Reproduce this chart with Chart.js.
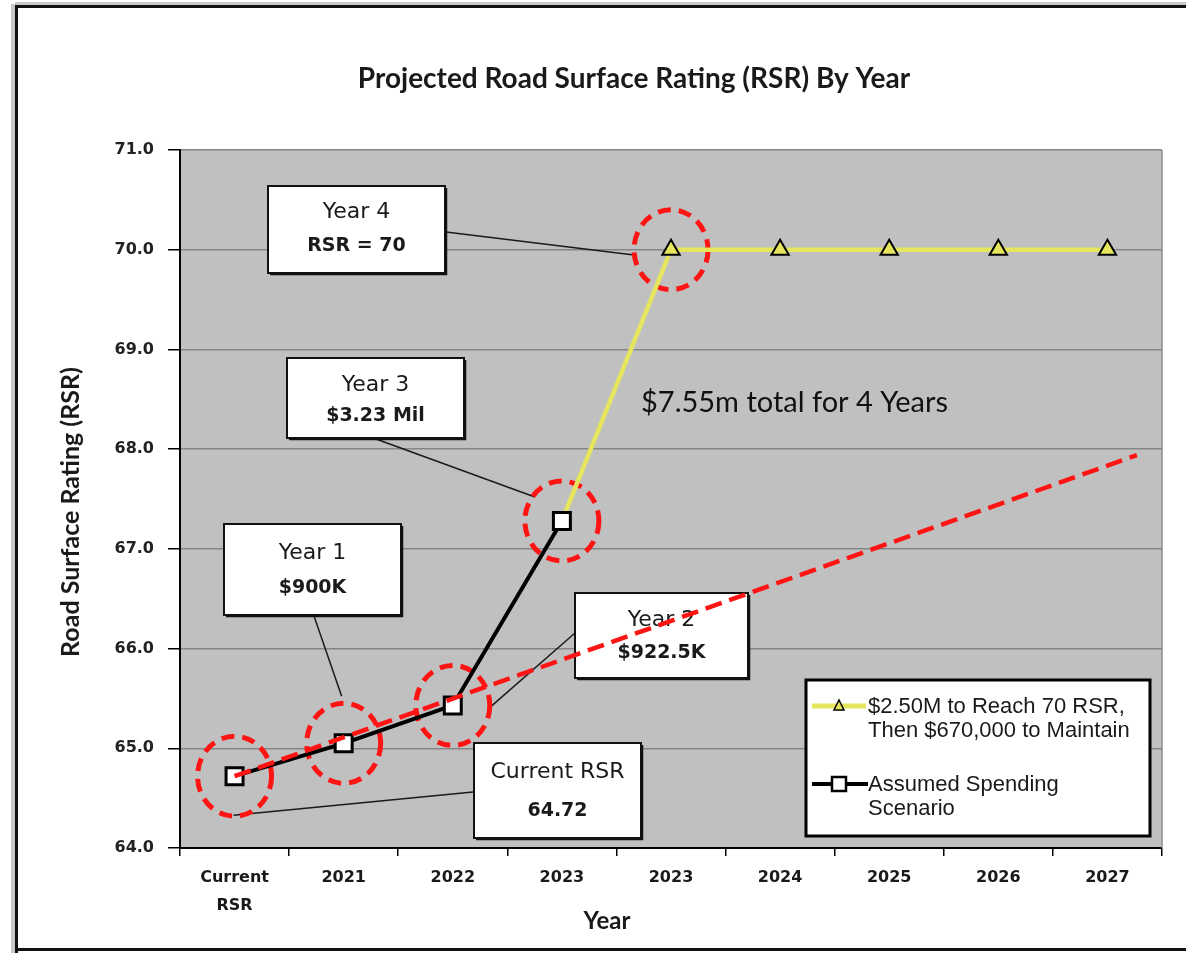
<!DOCTYPE html>
<html>
<head>
<meta charset="utf-8">
<title>Projected Road Surface Rating (RSR) By Year</title>
<script src="https://cdn.jsdelivr.net/npm/chart.js@4.4.0/dist/chart.umd.min.js"></script>
<style>
  html, body { margin: 0; padding: 0; background: #fff; }
  #wrap { width: 1186px; height: 953px; position: relative; }
</style>
</head>
<body>
<div id="wrap"><canvas id="rsrChart"></canvas></div>
<script>
// dados do gráfico
const categorias = [['Current', 'RSR'], '2021', '2022', '2023', '2023', '2024', '2025', '2026', '2027'];
const gastoAssumido = [64.72, 65.05, 65.43, 67.28, null, null, null, null, null];
const manter70 = [null, null, null, 67.28, 70.0, 70.0, 70.0, 70.0, 70.0];
const tendenciaX = [0, 8.27];
const tendenciaY = [64.72, 67.94];
const nomeManter = ['$2.50M to Reach 70 RSR,', 'Then $670,000 to Maintain'];
const nomeAssumido = ['Assumed Spending', 'Scenario'];
const textoTotal = '$7.55m total for 4 Years';

const amarelo = '#e6e65e';
const vermelho = '#ff1414';

// caixas de anotação (texto + ponto alvo)
const anotacoes = [
  { l1: 'Year 4', l2: 'RSR = 70', box: [268, 186, 177, 87], y1: 212, y2: 246, from: [446, 232], ds: 2, idx: 4, off: [-39, 5] },
  { l1: 'Year 3', l2: '$3.23 Mil', box: [287, 358, 177, 80], y1: 385, y2: 416, from: [376, 439], ds: 1, idx: 3, off: [-27, -24] },
  { l1: 'Year 1', l2: '$900K', box: [224, 524, 177, 91], y1: 553, y2: 588, from: [314, 616], ds: 1, idx: 1, off: [-2, -47] },
  { l1: 'Year 2', l2: '$922.5K', box: [575, 593, 173, 85], y1: 620, y2: 653, from: [575, 633], ds: 1, idx: 2, off: [36, 3] },
  { l1: 'Current RSR', l2: '64.72', box: [474, 743, 167, 95], y1: 772, y2: 811, from: [473, 792], ds: 1, idx: 0, off: [-1, 39] }
];
// círculos tracejados em volta dos pontos
const circulos = [[1, 0], [1, 1], [1, 2], [1, 3], [2, 4]];

function pontoPx(chart, ds, idx) {
  const el = chart.getDatasetMeta(ds).data[idx];
  return [el.x, el.y];
}

const fundoPlugin = {
  id: 'fundo',
  beforeDraw(chart) {
    const ctx = chart.ctx;
    const a = chart.chartArea;
    ctx.save();
    ctx.fillStyle = '#fff';
    ctx.fillRect(0, 0, chart.width, chart.height);
    // moldura
    ctx.fillStyle = '#c8c8c8';
    ctx.fillRect(11, 4, 4, chart.height);
    ctx.fillRect(15, 2, chart.width, 3);
    ctx.fillStyle = '#111';
    ctx.fillRect(15, 5, 3, chart.height);
    ctx.fillRect(15, 5, chart.width, 3);
    ctx.fillRect(15, 948, chart.width, 3);
    // area do grafico
    ctx.fillStyle = '#c0c0c0';
    ctx.fillRect(a.left, a.top, a.right - a.left, a.bottom - a.top);
    // titulos
    ctx.fillStyle = '#1a1a1a';
    ctx.textAlign = 'center';
    ctx.textBaseline = 'middle';
    ctx.font = 'bold 28px Lato, "Liberation Sans", sans-serif';
    ctx.fillText('Projected Road Surface Rating (RSR) By Year', 634, 79);
    ctx.font = 'bold 24px Lato, "Liberation Sans", sans-serif';
    ctx.fillText('Year', 607, 921);
    ctx.save();
    ctx.translate(71, 512);
    ctx.rotate(-Math.PI / 2);
    ctx.font = 'bold 25px Lato, "Liberation Sans", sans-serif';
    ctx.fillText('Road Surface Rating (RSR)', 0, 0);
    ctx.restore();
    ctx.restore();
  },
  beforeDatasetsDraw(chart) {
    const ctx = chart.ctx;
    const a = chart.chartArea;
    ctx.save();
    // borda direita da area
    ctx.strokeStyle = '#8c8c8c';
    ctx.lineWidth = 1.5;
    ctx.beginPath();
    ctx.moveTo(a.right, a.top);
    ctx.lineTo(a.right, a.bottom);
    ctx.stroke();

    // linhas de chamada
    ctx.strokeStyle = '#1a1a1a';
    ctx.lineWidth = 1.5;
    anotacoes.forEach(n => {
      const p = pontoPx(chart, n.ds, n.idx);
      ctx.beginPath();
      ctx.moveTo(n.from[0], n.from[1]);
      ctx.lineTo(p[0] + n.off[0], p[1] + n.off[1]);
      ctx.stroke();
    });

    // caixas
    anotacoes.forEach(n => {
      const [x, y, w, h] = n.box;
      ctx.fillStyle = '#fff';
      ctx.fillRect(x, y, w, h);
      ctx.strokeStyle = '#111';
      ctx.lineWidth = 2;
      ctx.strokeRect(x, y, w, h);
      ctx.lineWidth = 1.5;
      ctx.beginPath();
      ctx.moveTo(x + 2, y + h + 1.5);
      ctx.lineTo(x + w + 1.5, y + h + 1.5);
      ctx.lineTo(x + w + 1.5, y + 2);
      ctx.stroke();
      ctx.fillStyle = '#1a1a1a';
      ctx.textAlign = 'center';
      ctx.textBaseline = 'middle';
      ctx.font = '22px "DejaVu Sans", Verdana, sans-serif';
      ctx.fillText(n.l1, x + w / 2, n.y1);
      ctx.font = 'bold 19px "DejaVu Sans", Verdana, sans-serif';
      ctx.fillText(n.l2, x + w / 2, n.y2);
    });

    // circulos tracejados
    ctx.strokeStyle = vermelho;
    ctx.lineWidth = 5;
    ctx.setLineDash([13, 8]);
    circulos.forEach(c => {
      const p = pontoPx(chart, c[0], c[1]);
      ctx.beginPath();
      ctx.ellipse(p[0], p[1], 37, 40, 0, 0, Math.PI * 2);
      ctx.stroke();
    });
    ctx.setLineDash([]);

    // texto total
    ctx.fillStyle = '#111';
    ctx.textAlign = 'left';
    ctx.textBaseline = 'middle';
    ctx.font = '29px Lato, "Liberation Sans", sans-serif';
    ctx.fillText(textoTotal, 641, 403);

    // legenda
    const lx = 806, ly = 680, lw = 344, lh = 156;
    ctx.fillStyle = '#fff';
    ctx.fillRect(lx, ly, lw, lh);
    ctx.strokeStyle = '#000';
    ctx.lineWidth = 3;
    ctx.strokeRect(lx, ly, lw, lh);

    ctx.strokeStyle = amarelo;
    ctx.lineWidth = 5;
    ctx.beginPath();
    ctx.moveTo(812, 706);
    ctx.lineTo(866, 706);
    ctx.stroke();
    ctx.fillStyle = amarelo;
    ctx.strokeStyle = '#000';
    ctx.lineWidth = 1.5;
    ctx.beginPath();
    ctx.moveTo(839, 700);
    ctx.lineTo(844, 710);
    ctx.lineTo(834, 710);
    ctx.closePath();
    ctx.fill();
    ctx.stroke();

    ctx.strokeStyle = '#000';
    ctx.lineWidth = 4;
    ctx.beginPath();
    ctx.moveTo(812, 784);
    ctx.lineTo(868, 784);
    ctx.stroke();
    ctx.fillStyle = '#fff';
    ctx.lineWidth = 2.5;
    ctx.fillRect(832, 777, 14, 14);
    ctx.strokeRect(832, 777, 14, 14);

    ctx.fillStyle = '#1a1a1a';
    ctx.font = '22px "Liberation Sans", Arial, sans-serif';
    ctx.textAlign = 'left';
    ctx.fillText(nomeManter[0], 868, 707);
    ctx.fillText(nomeManter[1], 868, 731);
    ctx.fillText(nomeAssumido[0], 868, 785);
    ctx.fillText(nomeAssumido[1], 868, 809);
    ctx.restore();
  }
};

const ctxRsr = document.getElementById('rsrChart').getContext('2d');
const graficoRsr = new Chart(ctxRsr, {
  type: 'line',
  data: {
    labels: categorias,
    datasets: [
      {
        label: 'Trend',
        xAxisID: 'x2',
        data: tendenciaX.map((x, i) => ({ x: x, y: tendenciaY[i] })),
        borderColor: vermelho,
        borderWidth: 4.5,
        borderDash: [17, 8],
        pointRadius: 0,
        fill: false
      },
      {
        label: nomeAssumido.join(' '),
        data: gastoAssumido,
        borderColor: '#000',
        borderWidth: 4,
        pointStyle: 'rect',
        pointRadius: 12,
        pointBackgroundColor: '#fff',
        pointBorderColor: '#000',
        pointBorderWidth: 3,
        fill: false
      },
      {
        label: nomeManter.join(' '),
        data: manter70,
        borderColor: amarelo,
        borderWidth: 4.5,
        pointStyle: 'triangle',
        pointRadius: [0, 0, 0, 0, 10, 10, 10, 10, 10],
        pointBackgroundColor: amarelo,
        pointBorderColor: '#000',
        pointBorderWidth: 2,
        fill: false
      }
    ]
  },
  options: {
    responsive: true,
    maintainAspectRatio: false,
    animation: false,
    layout: { padding: { top: 150, right: 24, left: 0, bottom: 0 } },
    plugins: {
      legend: { display: false },
      tooltip: { enabled: false },
      title: { display: false }
    },
    scales: {
      x: {
        type: 'category',
        offset: true,
        grid: {
          offset: true,
          drawOnChartArea: false,
          drawTicks: true,
          tickLength: 8,
          color: '#000',
          lineWidth: 1.5
        },
        border: { color: '#000', width: 2 },
        ticks: {
          color: '#1a1a1a',
          font: { family: '"DejaVu Sans", Verdana, sans-serif', size: 16, weight: 'bold', lineHeight: 1.75 },
          padding: 8,
          maxRotation: 0,
          autoSkip: false
        },
        afterFit: function (scale) { scale.height = 105; }
      },
      x2: {
        type: 'linear',
        display: false,
        min: -0.5,
        max: 8.5
      },
      y: {
        min: 64,
        max: 71,
        grid: {
          color: '#858585',
          lineWidth: 1.5,
          tickColor: '#000',
          tickLength: 12
        },
        border: { color: '#000', width: 2 },
        ticks: {
          stepSize: 1,
          color: '#222',
          font: { family: '"DejaVu Sans", Verdana, sans-serif', size: 16, weight: 'bold' },
          padding: 14,
          callback: function (v) { return Number(v).toFixed(1); }
        },
        afterFit: function (scale) { scale.width = 180; }
      }
    }
  },
  plugins: [fundoPlugin]
});
</script>
</body>
</html>
